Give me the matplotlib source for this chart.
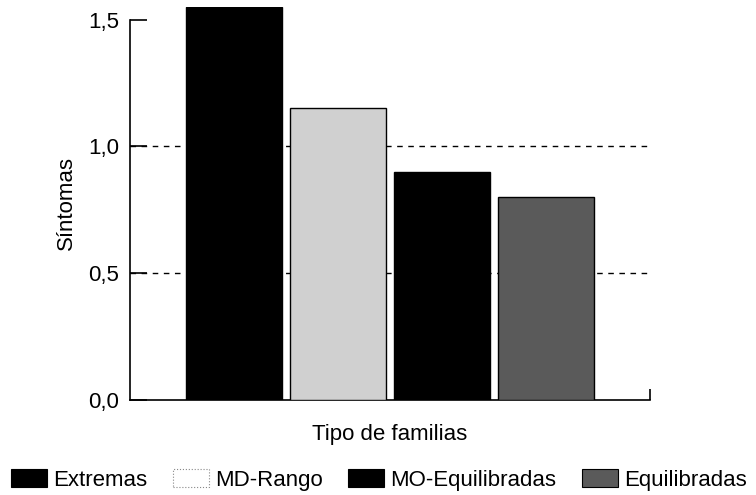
import matplotlib
matplotlib.use("Agg")
import matplotlib.pyplot as plt
from matplotlib.patches import Patch

categories = ["Extremas", "MD-Rango", "MO-Equilibradas", "Equilibradas"]
values = [1.55, 1.15, 0.90, 0.80]
colors = ["#000000", "#d0d0d0", "#000000", "#5a5a5a"]
ytick_values = [0.0, 0.5, 1.0, 1.5]
ytick_labels = ["0,0", "0,5", "1,0", "1,5"]
xlabel = "Tipo de familias"
ylabel = "Síntomas"

plt.rcParams['font.family'] = ['Liberation Sans', 'DejaVu Sans']

fig = plt.figure(figsize=(7.56, 4.95), dpi=100)
ax = fig.add_axes([130/756, 1-400/495, 520/756, 393/495])

x = list(range(len(categories)))
ax.bar(x, values, width=0.915, color=colors, edgecolor="black", linewidth=1.0, zorder=3)

for yv in [0.5, 1.0]:
    ax.axhline(yv, color="black", linestyle=(0, (4, 4)), linewidth=1.0, zorder=1)

ax.set_xlim(-1.0, 4.0)
ax.set_ylim(0, 1.55)
ax.spines['top'].set_visible(False)
ax.spines['right'].set_visible(False)
ax.spines['left'].set_bounds(0, 1.5)
ax.spines['left'].set_linewidth(1.2)
ax.spines['bottom'].set_linewidth(1.2)

ax.set_yticks(ytick_values)
ax.set_yticklabels(ytick_labels, fontsize=16)
ax.tick_params(axis='y', direction='in', length=12, width=1.2, pad=8)
ax.set_xticks([4.0])
ax.set_xticklabels([""])
ax.tick_params(axis='x', direction='in', length=8, width=1.2)

ax.set_ylabel(ylabel, fontsize=16, labelpad=8)
ax.set_xlabel(xlabel, fontsize=16, labelpad=14)

handles = [Patch(facecolor=c, edgecolor="black", linewidth=0.8) for c in colors]
handles[1] = Patch(facecolor="white", edgecolor="#888888", linewidth=0.8, linestyle=":")
fig.legend(handles, categories, loc="center", bbox_to_anchor=(379/756, 1-480/495),
           ncol=4, frameon=False, fontsize=16, handlelength=1.62, handleheight=0.86,
           handletextpad=0.28, columnspacing=1.15, borderaxespad=0, borderpad=0)

fig.savefig("out.png", dpi=100)
